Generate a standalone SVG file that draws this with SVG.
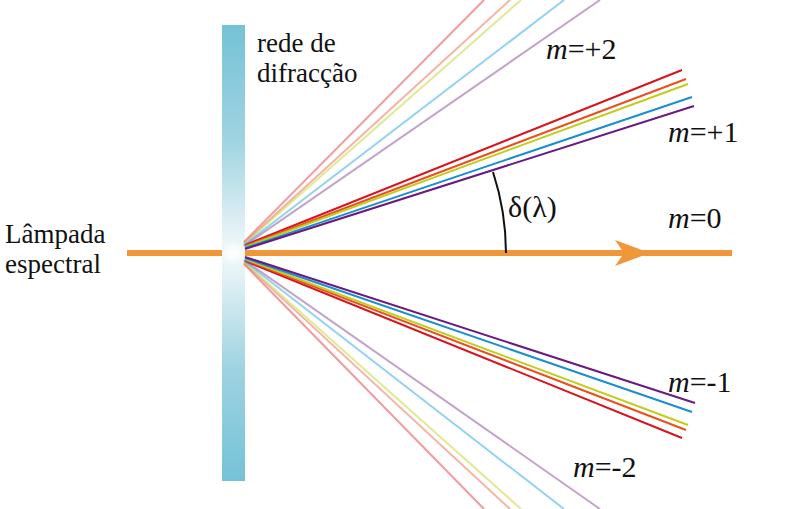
<svg xmlns="http://www.w3.org/2000/svg" width="800" height="509" viewBox="0 0 800 509">
<style>
.t{font-size:27px}.m{font-size:30px}
.r1 line{stroke-width:2}.r2 line{stroke-width:2;opacity:0.5}
</style>
<defs>
<linearGradient id="g" x1="0" y1="0" x2="0" y2="1">
<stop offset="0" stop-color="#75c2d7"/><stop offset="0.25" stop-color="#9fd3e2"/><stop offset="0.5" stop-color="#f4f9fa"/><stop offset="0.75" stop-color="#9fd3e2"/><stop offset="1" stop-color="#75c2d7"/>
</linearGradient>
<radialGradient id="glow"><stop offset="0" stop-color="#fff"/><stop offset="1" stop-color="#fff" stop-opacity="0"/></radialGradient>
</defs>
<g id="grating"><rect x="222" y="25" width="23" height="456" fill="url(#g)"/><circle cx="234" cy="253" r="12" fill="url(#glow)"/></g>
<g id="connectors">
<line x1="127" y1="253" x2="222" y2="253" stroke="#f0973a" stroke-width="6"/>
<line x1="245" y1="253" x2="732" y2="253" stroke="#f0973a" stroke-width="6"/>
<path d="M615,240 L650,253 L615,266 L624,253 Z" fill="#f0973a"/>
<g class="r1">
<line x1="245" y1="245" x2="682" y2="70" stroke="#d7141e"/>
<line x1="245" y1="246" x2="686" y2="79" stroke="#e8501e"/>
<line x1="245" y1="247" x2="688" y2="84" stroke="#c2cc1a"/>
<line x1="245" y1="248" x2="692" y2="97" stroke="#1a8fd0"/>
<line x1="245" y1="249" x2="694" y2="106" stroke="#6a1a80"/>
<line x1="245" y1="261" x2="682" y2="438" stroke="#d7141e"/>
<line x1="245" y1="260" x2="686" y2="430" stroke="#e8501e"/>
<line x1="245" y1="259" x2="688" y2="425" stroke="#c2cc1a"/>
<line x1="245" y1="258" x2="692" y2="412" stroke="#1a8fd0"/>
<line x1="245" y1="257" x2="695" y2="403" stroke="#6a1a80"/>
</g>
<g class="r2">
<line x1="244" y1="242" x2="484" y2="0" stroke="#e23a44"/>
<line x1="244" y1="243" x2="510" y2="0" stroke="#ec6a50"/>
<line x1="244" y1="244" x2="521" y2="0" stroke="#c8d42a"/>
<line x1="244" y1="245" x2="564" y2="0" stroke="#2aa8e0"/>
<line x1="244" y1="246" x2="600" y2="0" stroke="#8a4a98"/>
<line x1="244" y1="264" x2="484" y2="509" stroke="#e23a44"/>
<line x1="244" y1="263" x2="510" y2="509" stroke="#ec6a50"/>
<line x1="244" y1="262" x2="521" y2="509" stroke="#c8d42a"/>
<line x1="244" y1="261" x2="564" y2="509" stroke="#2aa8e0"/>
<line x1="244" y1="260" x2="600" y2="509" stroke="#8a4a98"/>
</g>
<path d="M493,172 A262,262 0 0 1 506,253" fill="none" stroke="#111" stroke-width="2"/>
</g>
<g id="labels" font-family="'Liberation Serif', 'DejaVu Serif', serif" fill="#111">
<text class="t" x="257" y="52">rede de</text>
<text class="t" x="257" y="82">difracção</text>
<text class="t" x="5" y="243">Lâmpada</text>
<text class="t" x="5" y="273">espectral</text>
<text class="m" x="508" y="217">δ(λ)</text>
<text class="m" x="546" y="59"><tspan font-style="italic">m</tspan>=+2</text>
<text class="m" x="668" y="142"><tspan font-style="italic">m</tspan>=+1</text>
<text class="m" x="668" y="228"><tspan font-style="italic">m</tspan>=0</text>
<text class="m" x="668" y="392"><tspan font-style="italic">m</tspan>=-1</text>
<text class="m" x="573" y="477"><tspan font-style="italic">m</tspan>=-2</text>
</g>
</svg>
